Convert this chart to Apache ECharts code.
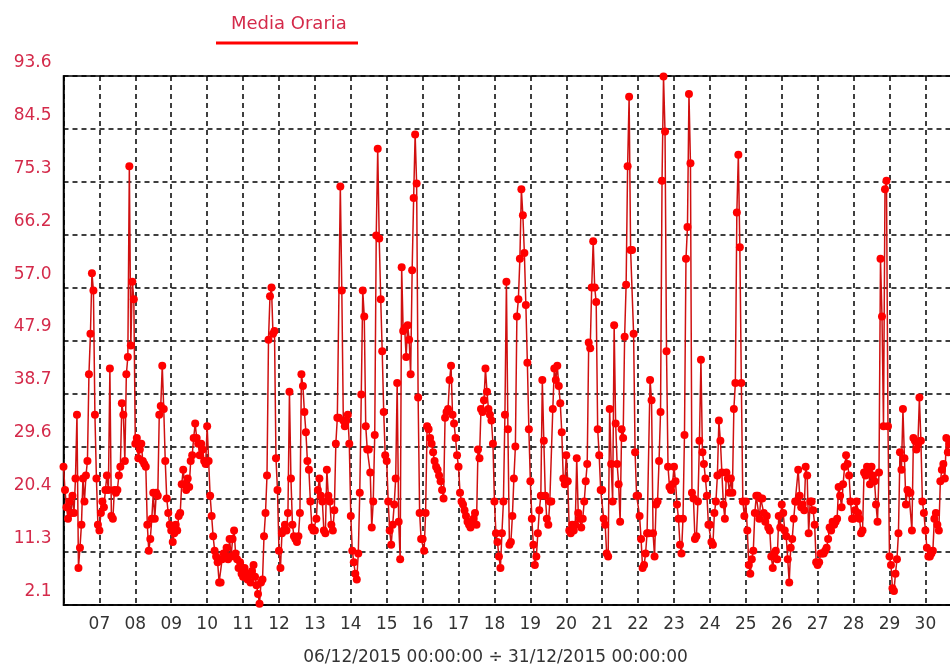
<!DOCTYPE html>
<html>
<head>
<meta charset="utf-8">
<script src="https://cdn.jsdelivr.net/npm/echarts@6/dist/echarts.min.js"></script>
<style>
html,body{margin:0;padding:0;background:#fff;overflow:hidden;}
#chart{width:950px;height:669px;}
</style>
</head>
<body>
<div id="chart"></div>
<script>
// Hourly averages ("Media Oraria"), one array per day, 24 values (hour 0..23)
const d06 = [26,22,19,17,20,18,21,18,24,35,8.5,12,16,24,20,24.5,27,42,49,59.5,56.5,35,24,16];
const d07 = [15,18,20,19,22,24.5,22,43,17.5,17,22,21.5,22,24.5,26,37,35,27,42,45,78,47,58,55];
const d08 = [30,31,27.5,29,30,27,26.5,26,16,11.5,13.5,17,21.5,17,21.5,21,35,36.5,43.5,36,27,20.5,18,16];
const d09 = [15,13,14.5,16,15,17.5,18,23,25.5,23,22,24,22.5,27,28,31,33.5,31,30,28,30,29,27,26.5];
const d10 = [33,27,21,17.5,14,11.5,10.5,9.5,6,6,10,11,10.5,12,10,13.5,10.5,13.5,15,11,10,8.5,9.5,7.5];
const d11 = [7,8.5,7.5,6.5,7.5,6,8,9,7,5.5,4,2.3,6,6.5,14,18,24.5,48,55.5,57,49,49.5,27.5,22];
const d12 = [11.5,8.5,14.5,15,16,15,18,39,24,16,14,13.5,13,14,18,42,40,35.5,32,27,25.5,20,15.5,15];
const d13 = [15,17,22,24,21,20,15,14.5,25.5,21,20,16,15,18.5,30,34.5,34.5,74.5,56.5,34,33,34,35,30];
const d14 = [17.5,11.5,9.5,7.5,6.5,11,21.5,38.5,56.5,52,33,29,29,25,15.5,20,31.5,66,81,65.5,55,46,35.5,28];
const d15 = [27,20,15,12.5,16,19.5,24,40.5,16.5,10,60.5,49.5,50,45,50.5,48,42,60,72.5,83.5,75,38,18,13.5];
const d16 = [13.5,11.5,18,33,32.5,31,30,28.5,27,26,25.5,24.5,23.5,22,20.5,34.5,35.5,36,41,43.5,35,33.5,31,28];
const d17 = [26,21.5,20,19.5,18.5,17.5,16.5,16,15.5,16.5,17,18,16,29,27.5,36,35.5,37.5,43,39,36,35,34,30];
const d18 = [20,14.5,13,10.5,8.5,14.5,20,35,58,32.5,12.5,13,17.5,24,29.5,52,55,62,74,69.5,63,54,44,32.5];
const d19 = [23.5,17,12.5,9,10.5,14.5,18.5,21,41,30.5,21,17,16,20,20,36,43,41,43.5,40,37,32,24,23];
const d20 = [28,23.5,15,14.5,16,15,16,27.5,18,17,15.5,17,20,23.5,26.5,47.5,46.5,57,65,57,54.5,32.5,28,22];
const d21 = [22,17,16,11,10.5,36,26.5,20,50.5,33.5,26.5,23,16.5,32.5,31,48.5,57.5,78,90,63.5,63.5,49,28.5,21];
const d22 = [21,17.5,13.5,8.5,9,11,14.5,14.5,41,37.5,14.5,10.5,19.5,20,27,35.5,75.5,93.5,84,46,26,22.5,22,23];
const d23 = [26,23.5,19.5,17,12.5,11,17,31.5,62,67.5,90.5,78.5,21.5,20.5,13.5,14,20,30.5,44.5,28.5,26.5,24,21,16];
const d24 = [16,13,12.5,18,20,24.5,34,30.5,25,19.5,17,25,24,21.5,24,21.5,36,40.5,70,80,64,40.5,20,17.5];
const d25 = [20,15,9,7.5,10,11.5,18,21,21,17,20.5,20.5,18,16.5,17.5,15.5,15,10.5,8.5,11,11.5,10,17.5,15.5];
const d26 = [19.5,18,15,14,10,6,12,13.5,17,20,20,25.5,21,19,19.5,18.5,26,24.5,14.5,20,20,18.5,16,9.5];
const d27 = [9,9.5,11,11,11,11.5,12,13.5,15.5,15,16.5,16,16.5,17,22.5,21,19,23,26,28,26.5,24.5,20,17];
const d28 = [17,18.5,20,18,17,14.5,15,25,24.5,26,25,23,26,24.5,23.5,19.5,16.5,25,62,52,33,74,75.5,33];
const d29 = [10.5,9,5,4.5,7.5,10,14.5,28.5,25.5,36,27.5,19.5,22,21.5,21.5,15,31,30.5,29,30,38,30.5,20,18];
const d30 = [15,12,10.5,10.5,11,11.5,17,18,16,15,23.5,25.5,26.5,24,31,28.5,30];

const dayLabels = ['06','07','08','09','10','11','12','13','14','15','16','17','18','19','20','21','22','23','24','25','26','27','28','29','30','31'];
const yTickLabels = ['2.1','11.3','20.4','29.6','38.7','47.9','57.0','66.2','75.3','84.5','93.6'];
const seriesName = 'Media Oraria';
const periodText = '06/12/2015 00:00:00 \u00F7 31/12/2015 00:00:00';

const days = [d06,d07,d08,d09,d10,d11,d12,d13,d14,d15,d16,d17,d18,d19,d20,d21,d22,d23,d24,d25,d26,d27,d28,d29,d30];
const points = [];
days.forEach((arr, di) => arr.forEach((v, h) => points.push([di * 24 + h, v])));

const yMin = parseFloat(yTickLabels[0]);
const yMax = parseFloat(yTickLabels[yTickLabels.length - 1]);
const yStep = (yMax - yMin) / (yTickLabels.length - 1);

const FONT = 'DejaVu Sans';
const RED_TXT = '#d42a4a';

const chart = echarts.init(document.getElementById('chart'), null, {renderer: 'canvas'});
chart.setOption({
  animation: false,
  backgroundColor: '#ffffff',
  grid: {
    left: 63.5, top: 76, bottom: 64, right: -11.3,
    outerBoundsMode: 'none',
    containLabel: false,
    show: true, borderColor: '#000', borderWidth: 1.5, backgroundColor: 'transparent'
  },
  xAxis: {
    type: 'value',
    min: 0, max: (dayLabels.length - 1) * 24, interval: 24,
    axisLine: {show: true, lineStyle: {color: '#000', width: 1.5}},
    axisTick: {show: false},
    axisLabel: {
      showMinLabel: false, showMaxLabel: false,
      color: '#333', fontFamily: FONT, fontSize: 17, margin: 11,
      formatter: v => dayLabels[Math.round(v / 24)] || ''
    },
    splitLine: {show: true, lineStyle: {color: '#000', width: 1.5, type: [5, 4]}}
  },
  yAxis: {
    type: 'value',
    min: yMin, max: yMax, interval: yStep,
    axisLine: {show: true, lineStyle: {color: '#000', width: 1.5}},
    axisTick: {show: false},
    axisLabel: {
      color: RED_TXT, fontFamily: FONT, fontSize: 17, margin: 12,
      verticalAlign: 'bottom', padding: [0, 0, 5, 0],
      formatter: v => yTickLabels[Math.round((v - yMin) / yStep)] || ''
    },
    splitLine: {show: true, lineStyle: {color: '#000', width: 1.5, type: [5, 4]}}
  },
  series: [{
    name: seriesName,
    type: 'line',
    data: points,
    symbol: 'circle',
    symbolSize: 8,
    showAllSymbol: true,
    itemStyle: {color: '#ff0000'},
    lineStyle: {color: '#d01010', width: 1.5},
    clip: true
  }],
  graphic: [
    {type: 'text', left: 231, top: 15, style: {text: seriesName, fill: RED_TXT, font: '18px "DejaVu Sans"'}},
    {type: 'rect', shape: {x: 216, y: 41.5, width: 142, height: 3}, style: {fill: '#ff0000'}},
    {type: 'text', x: 495.5, y: 658, style: {text: periodText, fill: '#333', font: '17px "DejaVu Sans"', align: 'center', verticalAlign: 'middle'}}
  ]
});
</script>
</body>
</html>
